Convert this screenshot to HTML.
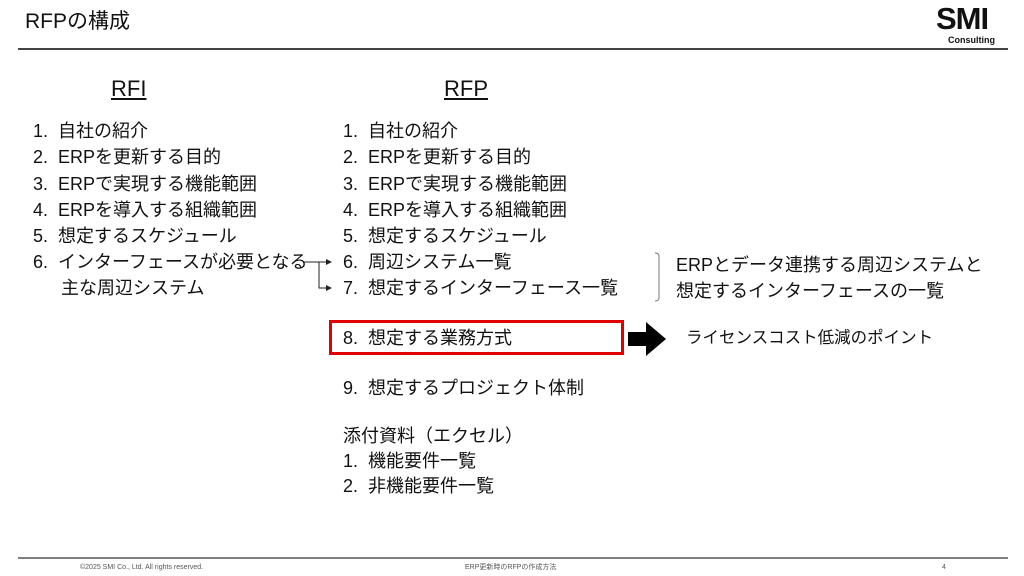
<!DOCTYPE html><html><head><meta charset="utf-8"><style>
body{margin:0;width:1024px;height:576px;background:#fff;position:relative;overflow:hidden;font-family:"Liberation Sans","Noto Sans CJK JP",sans-serif;color:#111}
.t{position:absolute;white-space:nowrap;line-height:1}
.l{font-size:18px}
</style></head><body>
<div class="t" style="left:25px;top:11px;font-size:21px">RFPの構成</div>
<div class="t" style="left:936px;top:3px;font-size:31px;font-weight:bold;letter-spacing:-1px">SMI</div>
<div class="t" style="left:948px;top:36px;font-size:9px;font-weight:bold">Consulting</div>
<div style="position:absolute;left:18px;top:48px;width:990px;height:2px;background:#444"></div>
<div class="t" style="left:111px;top:78px;font-size:22px;text-decoration:underline">RFI</div>
<div class="t" style="left:444px;top:78px;font-size:22px;text-decoration:underline">RFP</div>
<div class="t l" style="left:33px;top:122px">1.&nbsp; 自社の紹介</div>
<div class="t l" style="left:33px;top:148px">2.&nbsp; ERPを更新する目的</div>
<div class="t l" style="left:33px;top:175px">3.&nbsp; ERPで実現する機能範囲</div>
<div class="t l" style="left:33px;top:201px">4.&nbsp; ERPを導入する組織範囲</div>
<div class="t l" style="left:33px;top:227px">5.&nbsp; 想定するスケジュール</div>
<div class="t l" style="left:33px;top:253px">6.&nbsp; インターフェースが必要となる</div>
<div class="t l" style="left:61px;top:279px">主な周辺システム</div>
<div class="t l" style="left:343px;top:122px">1.&nbsp; 自社の紹介</div>
<div class="t l" style="left:343px;top:148px">2.&nbsp; ERPを更新する目的</div>
<div class="t l" style="left:343px;top:175px">3.&nbsp; ERPで実現する機能範囲</div>
<div class="t l" style="left:343px;top:201px">4.&nbsp; ERPを導入する組織範囲</div>
<div class="t l" style="left:343px;top:227px">5.&nbsp; 想定するスケジュール</div>
<div class="t l" style="left:343px;top:253px">6.&nbsp; 周辺システム一覧</div>
<div class="t l" style="left:343px;top:279px">7.&nbsp; 想定するインターフェース一覧</div>
<div class="t l" style="left:343px;top:329px">8.&nbsp; 想定する業務方式</div>
<div class="t l" style="left:343px;top:379px">9.&nbsp; 想定するプロジェクト体制</div>
<div class="t l" style="left:343px;top:427px">添付資料（エクセル）</div>
<div class="t l" style="left:343px;top:452px">1.&nbsp; 機能要件一覧</div>
<div class="t l" style="left:343px;top:477px">2.&nbsp; 非機能要件一覧</div>
<div style="position:absolute;left:329px;top:320px;width:289px;height:29px;border:3px solid #e00000"></div>
<svg style="position:absolute;left:0;top:0" width="1024" height="576">
<path d="M304 262H328M319 262V288H328" stroke="#222" stroke-width="1" fill="none"/>
<path d="M326 259L332 262L326 265Z M326 285L332 288L326 291Z" fill="#222"/>
<path d="M628 332H646V322L666 339L646 356V346H628Z" fill="#000"/>
<path d="M655 253Q659 253 659 256V298Q659 301 655 301" stroke="#777" fill="none"/>
<line x1="18" y1="558" x2="1008" y2="558" stroke="#555" stroke-width="1.5"/>
</svg>
<div class="t" style="left:676px;top:256px;font-size:18px">ERPとデータ連携する周辺システムと</div>
<div class="t" style="left:676px;top:282px;font-size:18px">想定するインターフェースの一覧</div>
<div class="t" style="left:686px;top:330px;font-size:16.5px">ライセンスコスト低減のポイント</div>
<div class="t" style="left:80px;top:564px;font-size:7px;color:#555">©2025 SMI Co., Ltd. All rights reserved.</div>
<div class="t" style="left:465px;top:564px;font-size:7px;color:#555">ERP更新時のRFPの作成方法</div>
<div class="t" style="left:942px;top:564px;font-size:7px;color:#555">4</div>
</body></html>
